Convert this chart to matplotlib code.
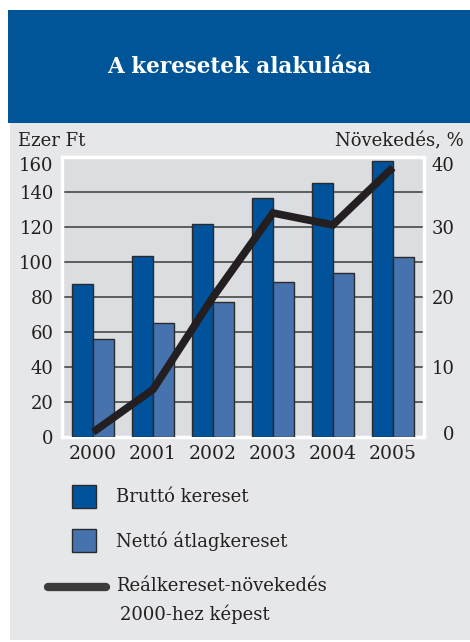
import matplotlib
matplotlib.use("Agg")
import matplotlib.pyplot as plt
import matplotlib.transforms as mtransforms
import numpy as np
from matplotlib.patches import Rectangle
from matplotlib.lines import Line2D

years = ["2000", "2001", "2002", "2003", "2004", "2005"]
brutto = [87.3, 103.4, 122, 136.5, 145, 157.5]
netto = [55.8, 65, 77.3, 88.4, 93.5, 103]
real_growth = [0.7, 6.8, 20, 32, 30.3, 38.5]
left_ticks = [0, 20, 40, 60, 80, 100, 120, 140, 160]
right_ticks = [0, 10, 20, 30, 40]

W, H = 470, 642
plt.rcParams['font.family'] = ['DejaVu Serif']
fig = plt.figure(figsize=(W / 100, H / 100), dpi=100)
fig.patch.set_facecolor('white')

def fx(x):
    return x / W

def fy(y):
    return 1 - y / H

# header and panel
fig.patches.append(Rectangle((fx(8), fy(123)), fx(462), 113 / H, transform=fig.transFigure,
                             facecolor='#005598', edgecolor='none', zorder=-10))
fig.patches.append(Rectangle((fx(10), fy(640)), fx(460), 517 / H, transform=fig.transFigure,
                             facecolor='#e6e7e9', edgecolor='none', zorder=-10))
fig.text(fx(239), fy(67), "A keresetek alakulása", color='white', fontsize=15.5,
         fontweight='bold', ha='center', va='center')

L, R, T, B = 62, 424, 157, 437
ax = fig.add_axes([fx(L), fy(B), (R - L) / W, (B - T) / H])
ax.set_facecolor('#dcdde0')
x = np.arange(len(years))
bw = 0.35
ax.bar(x - bw / 2, brutto, bw, color='#00539a', edgecolor='#2a2a2a', linewidth=1, zorder=3)
ax.bar(x + bw / 2, netto, bw, color='#4673ae', edgecolor='#2a2a2a', linewidth=1, zorder=3)
ax.set_xlim(-0.52, 5.52)
ax.set_ylim(0, 160)
ax.set_yticks(left_ticks)
ax.set_yticklabels([str(t) for t in left_ticks], fontsize=13, color='#231f20')
ax.set_xticks(x)
ax.set_xticklabels(years, fontsize=13.5, color='#231f20')
ax.tick_params(axis='both', length=0)
ax.tick_params(axis='y', pad=6)
ax.tick_params(axis='x', pad=6)
for yv in left_ticks[1:-1]:
    ax.axhline(yv, color='#3a3a3a', linewidth=1.1, zorder=1)
for s in ax.spines.values():
    s.set_color('white')
    s.set_linewidth(2.5)

ax2 = ax.twinx()
ax2.set_ylim(0, 40)
ax2.plot(x, real_growth, color='#231f20', linewidth=5.5, solid_capstyle='butt',
         solid_joinstyle='miter', zorder=5)
ax2.set_yticks(right_ticks)
ax2.set_yticklabels([str(t) for t in right_ticks], fontsize=13, color='#231f20', ha='right')
ax2.tick_params(axis='y', length=0, pad=22)
for s in ax2.spines.values():
    s.set_visible(False)

# nudge top labels down and right-axis zero up, as in the original
down = mtransforms.ScaledTranslation(0, -7 / 100, fig.dpi_scale_trans)
up = mtransforms.ScaledTranslation(0, 4 / 100, fig.dpi_scale_trans)
lt = ax.yaxis.get_major_ticks()[-1].label1
lt.set_transform(lt.get_transform() + down)
rt = ax2.yaxis.get_major_ticks()[-1].label2
rt.set_transform(rt.get_transform() + down)
r0 = ax2.yaxis.get_major_ticks()[0].label2
r0.set_transform(r0.get_transform() + up)

fig.text(fx(18), fy(141), "Ezer Ft", fontsize=13, color='#231f20', ha='left', va='center')
fig.text(fx(464), fy(141), "Növekedés, %", fontsize=13, color='#231f20', ha='right', va='center')

# legend
fig.patches.append(Rectangle((fx(72), fy(508)), fx(24), 23 / H, transform=fig.transFigure,
                             facecolor='#00539a', edgecolor='#2a2a2a', linewidth=1, zorder=2))
fig.patches.append(Rectangle((fx(72), fy(552)), fx(24), 23 / H, transform=fig.transFigure,
                             facecolor='#4673ae', edgecolor='#2a2a2a', linewidth=1, zorder=2))
fig.lines.append(Line2D([fx(48), fx(106)], [fy(587), fy(587)], transform=fig.transFigure,
                        color='#3c3c3c', linewidth=6, solid_capstyle='round'))
fig.text(fx(116), fy(497), "Bruttó kereset", fontsize=13, color='#231f20', ha='left', va='center')
fig.text(fx(116), fy(541), "Nettó átlagkereset", fontsize=13, color='#231f20', ha='left', va='center')
fig.text(fx(116), fy(586), "Reálkereset-növekedés", fontsize=13, color='#231f20', ha='left', va='center')
fig.text(fx(120), fy(614), "2000-hez képest", fontsize=13, color='#231f20', ha='left', va='center')

fig.savefig("out.png", dpi=100, facecolor='white')
